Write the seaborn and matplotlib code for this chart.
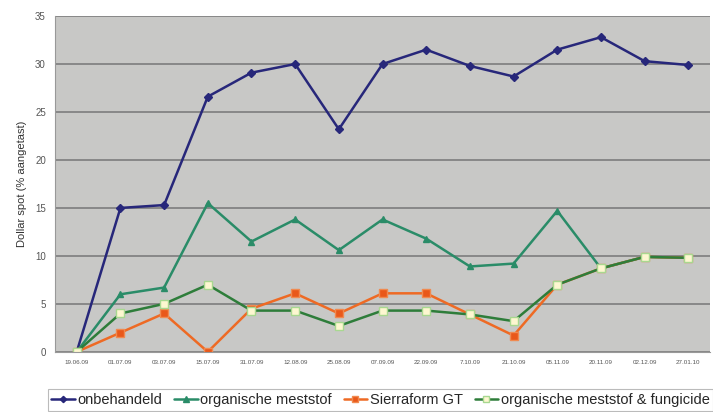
import matplotlib
matplotlib.use("Agg")
import matplotlib.pyplot as plt
import pandas as pd
import seaborn as sns

dates = ["19.06.09", "01.07.09", "03.07.09", "15.07.09", "31.07.09", "12.08.09",
         "25.08.09", "07.09.09", "22.09.09", "7.10.09", "21.10.09", "05.11.09",
         "20.11.09", "02.12.09", "27.01.10"]
onbehandeld = [0, 15.0, 15.3, 26.6, 29.1, 30.0, 23.2, 30.0, 31.5, 29.8, 28.7, 31.5, 32.8, 30.3, 29.9]
organisch = [0, 6.0, 6.7, 15.5, 11.5, 13.8, 10.6, 13.8, 11.8, 8.9, 9.2, 14.7, 8.7, 9.9, 9.8]
sierraform = [0, 2.0, 4.0, 0, 4.5, 6.1, 4.0, 6.1, 6.1, 3.9, 1.7, 7.0, 8.7, 9.9, 9.8]
fungicide = [0, 4.0, 5.0, 7.0, 4.3, 4.3, 2.7, 4.3, 4.3, 3.9, 3.2, 7.0, 8.7, 9.9, 9.8]

series = {
    "onbehandeld": onbehandeld,
    "organische meststof": organisch,
    "Sierraform GT": sierraform,
    "organische meststof & fungicide": fungicide,
}
styles = {
    "onbehandeld": dict(color="#27277a", marker="D", markersize=4, mfc="#27277a", mec="#27277a"),
    "organische meststof": dict(color="#2a8c68", marker="^", markersize=5, mfc="#2a8c68", mec="#2a8c68"),
    "Sierraform GT": dict(color="#ee6a24", marker="s", markersize=6, mfc="#e9581a", mec="#f08a50"),
    "organische meststof & fungicide": dict(color="#2e7d3a", marker="s", markersize=6,
                                            mfc="#fdf7d0", mec="#a8d890"),
}

rows = []
for name, vals in series.items():
    for i, v in enumerate(vals):
        rows.append({"idx": i, "value": v, "serie": name})
df = pd.DataFrame(rows)

sns.set_style("white")
plt.rcParams["font.family"] = ["Liberation Sans", "DejaVu Sans"]

fig = plt.figure(figsize=(7.13, 4.12), dpi=100)
ax = fig.add_axes([0.077, 0.146, 0.919, 0.815])
ax.set_facecolor("#c8c8c6")

for name in series:
    st = styles[name]
    sns.lineplot(data=df[df["serie"] == name], x="idx", y="value", ax=ax,
                 color=st["color"], linewidth=1.8, marker=st["marker"],
                 markersize=st["markersize"], markerfacecolor=st["mfc"],
                 markeredgecolor=st["mec"], markeredgewidth=1, label=name)

ax.set_xlim(-0.5, len(dates) - 0.5)
ax.set_ylim(0, 35)
ax.set_yticks(range(0, 36, 5))
ax.set_xticks(range(len(dates)))
ax.set_xticklabels(dates, fontsize=4.5, color="#555555")
ax.tick_params(axis="y", labelsize=7, colors="#555555", length=3, color="#888888")
ax.tick_params(axis="x", length=2, color="#888888", pad=4)
ax.yaxis.grid(True, color="#838383", linewidth=1.3)
ax.set_axisbelow(True)
for s in ["top", "right"]:
    ax.spines[s].set_visible(False)
ax.spines["left"].set_color("#999999")
ax.spines["bottom"].set_color("#999999")
ax.set_xlabel("")
ax.set_ylabel("Dollar spot (% aangetast)", fontsize=8, color="#333333", labelpad=6)

ax.get_legend().remove()
handles, labels = ax.get_legend_handles_labels()
leg = fig.legend(handles, labels, loc="upper left", bbox_to_anchor=(0.067, 0.055),
                 ncol=4, fontsize=10.5, frameon=True, fancybox=False,
                 handlelength=1.6, handletextpad=0.2, columnspacing=0.8,
                 borderpad=0.25, borderaxespad=0, markerscale=0.8)
leg.get_frame().set_edgecolor("#aaaaaa")
leg.get_frame().set_linewidth(0.8)

fig.savefig("out.png", dpi=100)
